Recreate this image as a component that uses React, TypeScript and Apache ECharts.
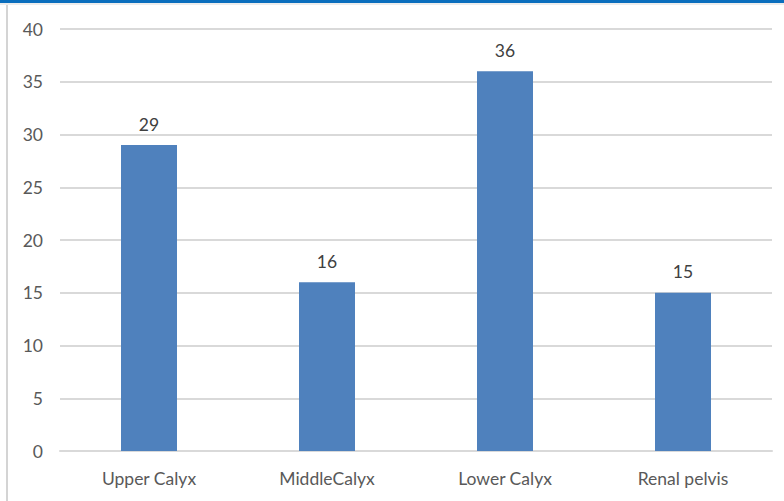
import React, { useEffect, useRef } from "react";
import * as echarts from "echarts";

const categories = ["Upper Calyx", "MiddleCalyx", "Lower Calyx", "Renal pelvis"];
const values = [29, 16, 36, 15];

export default function App() {
  const ref = useRef<HTMLDivElement>(null);
  useEffect(() => {
    if (!ref.current) return;
    const chart = echarts.init(ref.current, null, { renderer: "svg" });
    const font = "Lato";
    chart.setOption({
      animation: false,
      backgroundColor: "#ffffff",
      textStyle: { fontFamily: font },
      graphic: [
        { type: "rect", shape: { x: 0, y: 0, width: 784, height: 3 }, style: { fill: "#0a6ebd" }, z: 100 },
        { type: "rect", shape: { x: 0, y: 3, width: 784, height: 2 }, style: { fill: "#ececec" }, z: 100 },
        { type: "rect", shape: { x: 6, y: 5, width: 2, height: 496 }, style: { fill: "#d4d4d4" }, z: 100 },
      ],
      grid: { left: 60, right: 12, top: 29, bottom: 50, containLabel: false },
      xAxis: {
        type: "category",
        data: categories,
        axisLine: { lineStyle: { color: "#d9d9d9", width: 2 } },
        axisTick: { show: false },
        axisLabel: { color: "#595959", fontSize: 17.5, margin: 18, fontFamily: font },
      },
      yAxis: {
        type: "value",
        min: 0,
        max: 40,
        interval: 5,
        axisLine: { show: false },
        axisTick: { show: false },
        splitLine: { lineStyle: { color: "#d9d9d9", width: 2 } },
        axisLabel: { color: "#595959", fontSize: 17.5, margin: 17, fontFamily: font },
      },
      series: [
        {
          type: "bar",
          data: values,
          barWidth: 56,
          itemStyle: { color: "#4f81bd" },
          label: { show: true, position: "top", distance: 12, color: "#404040", fontSize: 17.5, fontFamily: font },
        },
      ],
    });
    return () => chart.dispose();
  }, []);
  return <div ref={ref} style={{ position: "fixed", left: 0, top: 0, width: 784, height: 501 }} />;
}
